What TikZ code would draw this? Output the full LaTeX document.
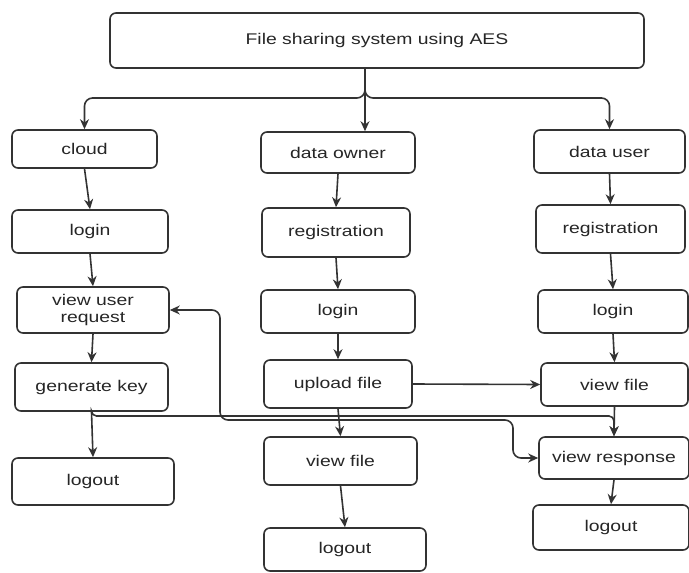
\documentclass[tikz,border=0pt]{standalone}
\usepackage{fontspec}
\setmainfont{Liberation Sans}[FakeStretch=1.25]
\usetikzlibrary{arrows.meta}
\definecolor{boxline}{HTML}{333333}
\definecolor{boxtext}{HTML}{262626}

\begin{document}
\begin{tikzpicture}[x=1pt, y=-1pt,
    >={Stealth[length=10pt, width=9pt]},
    box/.style={draw=boxline, fill=white, line width=1.6pt, rounded corners=6pt,
                text=boxtext, font=\fontsize{15.5}{17}\selectfont, align=center, inner sep=2pt},
    arr/.style={draw=boxline, line width=1.6pt, ->}]
                    \useasboundingbox (0,0) rectangle (689,573);

                    % Top box
                    \node[box, minimum width=534, minimum height=55] (title) at (377,40.5) {File sharing system using AES};

                    % Cloud column
                    \node[box, minimum width=145, minimum height=38] (cloud) at (84.5,149) {cloud};
                    \node[box, minimum width=156, minimum height=43] (clogin) at (90,231.5) {login};
                    \node[box, minimum width=152, minimum height=46] (viewreq) at (93,310) {view user\\request};
                    \node[box, minimum width=153, minimum height=48] (genkey) at (91.5,387) {generate key};
                    \node[box, minimum width=162, minimum height=47] (clogout) at (93,481.5) {logout};

                    % Data owner column
                    \node[box, minimum width=154, minimum height=41] (owner) at (338,152.5) {data owner};
                    \node[box, minimum width=148, minimum height=49] (oreg) at (336,232.5) {registration};
                    \node[box, minimum width=154, minimum height=43] (ologin) at (338,311.5) {login};
                    \node[box, minimum width=148, minimum height=48] (upload) at (338,384) {upload file};
                    \node[box, minimum width=153, minimum height=48] (oview) at (340.5,461) {view file};
                    \node[box, minimum width=162, minimum height=43] (ologout) at (345,549.5) {logout};

                    % Data user column
                    \node[box, minimum width=151, minimum height=43] (user) at (609.5,151.5) {data user};
                    \node[box, minimum width=149, minimum height=48] (ureg) at (610.5,229) {registration};
                    \node[box, minimum width=150, minimum height=43] (ulogin) at (613,311.5) {login};
                    \node[box, minimum width=147, minimum height=43] (uview) at (614.5,384.5) {view file};
                    \node[box, minimum width=150, minimum height=42] (response) at (614,458) {view response};
                    \node[box, minimum width=156, minimum height=45] (ulogout) at (611,527.5) {logout};

                    % Fork from the top box
                    \coordinate (fork) at (365,98);
                    \draw[arr, rounded corners=8pt] (title.south -| fork) -- (fork) -| (cloud.north);
                    \draw[arr] (title.south -| fork) -- (owner.north -| fork);
                    \draw[arr, rounded corners=8pt] (title.south -| fork) -- (fork) -| (user.north);

                    % Steps down each column
                    \foreach \a/\b in {cloud/clogin, clogin/viewreq, viewreq/genkey, genkey/clogout,
                                       owner/oreg, oreg/ologin, ologin/upload, upload/oview, oview/ologout,
                                       user/ureg, ureg/ulogin, ulogin/uview, uview/response, response/ulogout} {
                        \draw[arr] (\a.south) -- (\b.north);
                    }

                    % Cross links
                    \draw[arr] (upload.east) -- (uview.west);
                    \coordinate (keybus) at (0,416);
                    \draw[arr, rounded corners=5pt] (genkey.south) |- (response.north |- keybus) -- (response.north);
                    \coordinate (jogL) at (220,420);
                    \coordinate (jogR) at (513,420);
                    \draw[arr, <->, rounded corners=8pt] (viewreq.east) -| (jogL) -- (jogR) |- (response.west);
                \end{tikzpicture}
\end{document}
